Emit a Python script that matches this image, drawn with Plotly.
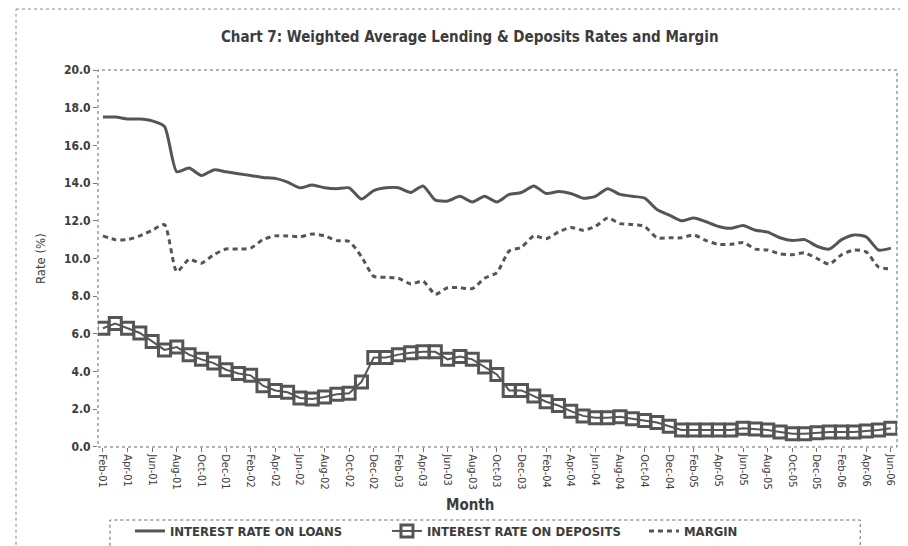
import plotly.graph_objects as go

# monthly observations Feb-01 .. Jun-06
months = []
for yr in range(1, 7):
    for m in ["Jan", "Feb", "Mar", "Apr", "May", "Jun", "Jul", "Aug", "Sep", "Oct", "Nov", "Dec"]:
        months.append(f"{m}-{yr:02d}")
months = months[1:months.index("Jun-06") + 1]

loans = [17.5, 17.5, 17.4, 17.4, 17.3, 17.0, 14.6, 14.8, 14.4, 14.7,
         14.6, 14.5, 14.4, 14.3, 14.25, 14.05, 13.75, 13.9, 13.75, 13.7,
         13.75, 13.15, 13.6, 13.75, 13.75, 13.5, 13.85, 13.1, 13.05, 13.3,
         13.0, 13.3, 13.0, 13.4, 13.5, 13.85, 13.45, 13.55, 13.45, 13.2,
         13.3, 13.7, 13.4, 13.3, 13.2, 12.6, 12.3, 12.0, 12.15, 11.95,
         11.7, 11.6, 11.75, 11.5, 11.4, 11.1, 10.95, 11.0, 10.65, 10.5,
         11.0, 11.25, 11.15, 10.45, 10.55]

deposits = [6.3, 6.55, 6.3, 6.05, 5.6, 5.15, 5.3, 4.9, 4.65, 4.45,
            4.1, 3.9, 3.8, 3.25, 3.0, 2.9, 2.6, 2.55, 2.65, 2.8,
            2.85, 3.45, 4.75, 4.75, 4.9, 5.0, 5.05, 5.05, 4.65, 4.8,
            4.65, 4.25, 3.85, 3.0, 3.0, 2.7, 2.4, 2.2, 1.9, 1.65,
            1.55, 1.55, 1.6, 1.5, 1.4, 1.3, 1.1, 0.9, 0.9, 0.9,
            0.9, 0.9, 1.0, 0.95, 0.9, 0.8, 0.7, 0.7, 0.75, 0.8,
            0.8, 0.8, 0.85, 0.9, 1.0]

margin = [11.2, 11.0, 11.0, 11.2, 11.5, 11.8, 9.3, 9.95, 9.75, 10.2,
          10.5, 10.5, 10.55, 11.0, 11.2, 11.2, 11.15, 11.3, 11.2, 10.95,
          10.9, 10.1, 9.05, 9.0, 8.95, 8.65, 8.8, 8.1, 8.45, 8.45,
          8.4, 8.95, 9.25, 10.4, 10.6, 11.2, 11.05, 11.4, 11.65, 11.5,
          11.7, 12.15, 11.85, 11.8, 11.7, 11.1, 11.1, 11.1, 11.25, 10.95,
          10.75, 10.75, 10.85, 10.5, 10.45, 10.25, 10.2, 10.3, 10.0, 9.7,
          10.2, 10.45, 10.35, 9.55, 9.45]

tick_months = months[::2]
ytick_vals = [0, 2, 4, 6, 8, 10, 12, 14, 16, 18, 20]

grey = "#555555"
txt = "#3c3c3c"
font_main = "DejaVu Sans Condensed, DejaVu Sans"

fig = go.Figure()
fig.add_trace(go.Scatter(
    x=months, y=loans, mode="lines", name="<b>INTEREST RATE ON LOANS</b>",
    line=dict(color=grey, width=3, shape="spline", smoothing=0.6)))
fig.add_trace(go.Scatter(
    x=months, y=deposits, mode="lines+markers", name="<b>INTEREST RATE ON DEPOSITS</b>",
    line=dict(color=grey, width=2),
    marker=dict(symbol="square-open", size=12, color=grey, line=dict(width=3, color=grey))))
fig.add_trace(go.Scatter(
    x=months, y=margin, mode="lines", name="<b>MARGIN</b>",
    line=dict(color=grey, width=3, dash="5px,4px", shape="spline", smoothing=0.6)))

# page body has an 8px margin, so the figure is 8px smaller than the window
fig.update_layout(
    width=900, height=538,
    margin=dict(l=90, r=11, t=62, b=0),
    paper_bgcolor="white", plot_bgcolor="white",
    font=dict(family=font_main, color=txt),
    title=dict(text="<b>Chart 7: Weighted Average Lending & Deposits Rates and Margin</b>",
               x=0.513, xanchor="center", y=0.946, yanchor="middle",
               font=dict(size=15, color=txt)),
    showlegend=True,
    legend=dict(orientation="h", x=0.04, xanchor="left", y=0.0, yanchor="bottom",
                font=dict(size=13, color=txt, family=font_main),
                entrywidth=212, tracegroupgap=0, bgcolor="rgba(0,0,0,0)"),
    xaxis=dict(type="category", range=[-0.4, 64.5], tickmode="array",
               tickvals=tick_months, ticktext=tick_months, tickangle=90,
               ticks="outside", ticklen=4, tickcolor="#777", showgrid=False,
               tickfont=dict(size=11, color=txt, family=font_main),
               showline=False, zeroline=False, automargin=False),
    yaxis=dict(range=[0, 20], domain=[0.208, 1], tickmode="array", tickvals=ytick_vals,
               ticktext=[f"<b>{v:.1f}</b>" for v in ytick_vals],
               ticks="outside", ticklen=4, tickcolor="#777",
               showgrid=False, zeroline=False, showline=False, automargin=False,
               tickfont=dict(size=12, color=txt)),
    annotations=[
        dict(text="Rate (%)", x=-0.0726, y=0.605, xref="paper", yref="paper",
             xanchor="center", yanchor="middle",
             textangle=-90, showarrow=False, font=dict(size=13, color=txt)),
        dict(text="<b>Month</b>", x=0.466, y=0.086, xref="paper", yref="paper",
             xanchor="center", yanchor="middle",
             showarrow=False, font=dict(size=15, color=txt)),
    ],
    shapes=[
        # dotted plot-area frame
        dict(type="rect", xref="paper", yref="paper", x0=0, x1=1, y0=0.208, y1=1,
             line=dict(color="#666", width=1, dash="dot")),
        # legend box
        dict(type="rect", xref="paper", yref="paper", x0=0.015, x1=0.954, y0=-0.01, y1=0.0546,
             line=dict(color="#666", width=1, dash="dot")),
        # outer chart border (top and left)
        dict(type="line", xref="paper", yref="paper", x0=-0.1026, x1=1.02, y0=1.128, y1=1.128,
             line=dict(color="#888", width=1, dash="dot")),
        dict(type="line", xref="paper", yref="paper", x0=-0.1026, x1=-0.1026, y0=-0.01, y1=1.128,
             line=dict(color="#888", width=1, dash="dot")),
    ],
)

fig.write_html("out.html")
